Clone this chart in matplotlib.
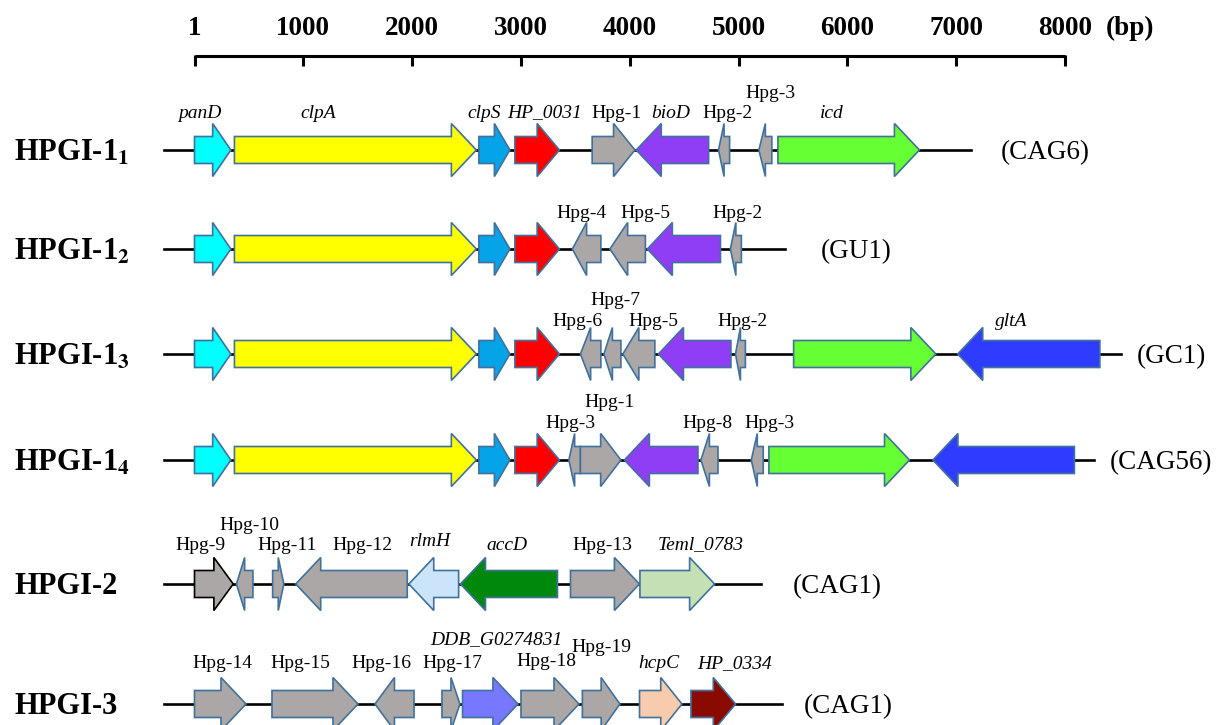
import matplotlib.pyplot as plt
from matplotlib import rcParams
from matplotlib.patches import Polygon

rcParams.update({
    "font.family": "serif",
    "font.serif": ["Liberation Serif", "DejaVu Serif"],
    "mathtext.fontset": "stix",
})

# genes of each island: (name, start bp, end bp, strand)
hpgi_1_1 = [("panD", 1, 335, 1), ("clpA", 368, 2591, 1), ("clpS", 2614, 2899, 1),
            ("HP_0031", 2945, 3354, 1), ("Hpg-1", 3655, 4048, 1), ("bioD", 4060, 4725, -1),
            ("Hpg-2", 4816, 4918, -1), ("Hpg-3", 5187, 5306, -1), ("icd", 5362, 6662, 1)]
hpgi_1_2 = [("panD", 1, 335, 1), ("clpA", 368, 2591, 1), ("clpS", 2614, 2899, 1),
            ("HP_0031", 2945, 3354, 1), ("Hpg-4", 3473, 3735, -1), ("Hpg-5", 3818, 4144, -1),
            ("bioD", 4162, 4834, -1), ("Hpg-2", 4925, 5026, -1)]
hpgi_1_3 = [("panD", 1, 335, 1), ("clpA", 368, 2591, 1), ("clpS", 2614, 2899, 1),
            ("HP_0031", 2945, 3354, 1), ("Hpg-6", 3547, 3735, -1), ("Hpg-7", 3763, 3919, -1),
            ("Hpg-5", 3937, 4231, -1), ("bioD", 4264, 4930, -1), ("Hpg-2", 4972, 5063, -1),
            ("icd", 5506, 6813, 1), ("gltA", 7014, 8320, -1)]
hpgi_1_4 = [("panD", 1, 335, 1), ("clpA", 368, 2591, 1), ("clpS", 2614, 2899, 1),
            ("HP_0031", 2945, 3354, 1), ("Hpg-3", 3441, 3547, -1), ("Hpg-1", 3547, 3919, 1),
            ("bioD", 3951, 4627, -1), ("Hpg-8", 4654, 4811, -1), ("Hpg-3", 5117, 5227, -1),
            ("icd", 5279, 6571, 1), ("gltA", 6786, 8086, -1)]
hpgi_2 = [("Hpg-9", 1, 357, 1), ("Hpg-10", 386, 538, -1), ("Hpg-11", 719, 822, 1),
          ("Hpg-12", 931, 1956, -1), ("rlmH", 1971, 2428, -1), ("accD", 2445, 3336, -1),
          ("Hpg-13", 3456, 4089, 1), ("Teml_0783", 4094, 4780, 1)]
hpgi_3 = [("Hpg-14", 1, 474, 1), ("Hpg-15", 713, 1503, 1), ("Hpg-16", 1659, 2018, -1),
          ("Hpg-17", 2275, 2440, 1), ("DDB_G0274831", 2464, 2973, 1), ("Hpg-18", 3001, 3534, 1),
          ("Hpg-19", 3565, 3910, 1), ("hcpC", 4090, 4480, 1), ("HP_0334", 4563, 4973, 1)]

islands = [hpgi_1_1, hpgi_1_2, hpgi_1_3, hpgi_1_4, hpgi_2, hpgi_3]
island_names = [r"HPGI-1$_{\mathbf{1}}$", r"HPGI-1$_{\mathbf{2}}$", r"HPGI-1$_{\mathbf{3}}$",
                r"HPGI-1$_{\mathbf{4}}$", "HPGI-2", "HPGI-3"]
strains = ["(CAG6)", "(GU1)", "(GC1)", "(CAG56)", "(CAG1)", "(CAG1)"]
contig_end = [7135, 5426, 8513, 8265, 5206, 5398]
scale_ticks = [1, 1000, 2000, 3000, 4000, 5000, 6000, 7000, 8000]

# label placement: (gene, x in bp, offset above the row in px)
gene_labels = [
    [("panD", 48, 37), ("clpA", 1136, 37), ("clpS", 2660, 37), ("HP_0031", 3215, 37),
     ("Hpg-1", 3883, 37), ("bioD", 4378, 37), ("Hpg-2", 4903, 37), ("Hpg-3", 5293, 57),
     ("icd", 5859, 37)],
    [("Hpg-4", 3553, 36), ("Hpg-5", 4141, 36), ("Hpg-2", 4994, 36)],
    [("Hpg-6", 3524, 33), ("Hpg-7", 3870, 54), ("Hpg-5", 4222, 33), ("Hpg-2", 5040, 33),
     ("gltA", 7504, 33)],
    [("Hpg-3", 3451, 37), ("Hpg-1", 3819, 58), ("Hpg-8", 4716, 37), ("Hpg-3", 5280, 37)],
    [("Hpg-9", 56, 39), ("Hpg-10", 502, 58), ("Hpg-11", 856, 39), ("Hpg-12", 1540, 39),
     ("rlmH", 2165, 42), ("accD", 2873, 39), ("Hpg-13", 3745, 39), ("Teml_0783", 4655, 39)],
    [("Hpg-14", 254, 40), ("Hpg-15", 975, 40), ("Hpg-16", 1715, 40), ("Hpg-17", 2374, 40),
     ("DDB_G0274831", 2771, 64), ("Hpg-18", 3231, 43), ("Hpg-19", 3737, 56),
     ("hcpC", 4265, 40), ("HP_0334", 4962, 40)],
]
strain_x = [7412, 5754, 8662, 8410, 5500, 5598]
row_y = [150, 249, 354, 460, 584, 704]

gene_colors = {
    "panD": "#00ffff", "clpA": "#ffff00", "clpS": "#05a3e8", "HP_0031": "#ff0000",
    "bioD": "#8f3ef5", "icd": "#66ff33", "gltA": "#2e3cff", "rlmH": "#cce4fa",
    "accD": "#00880c", "Teml_0783": "#c5e0b4", "DDB_G0274831": "#7878ff",
    "hcpC": "#f8cbad", "HP_0334": "#8b0a00",
}
GRAY = "#aba7a7"
EDGE = "#41719c"

px_per_bp = 0.10883
x0_px = 194.5


def to_bp(px):
    return (px - x0_px) / px_per_bp + 1


def draw_gene(ax, start, end, strand, y, fc, ec):
    length = end - start
    head = min(25 / px_per_bp, 0.5 * length)
    b, h = 13.5, 26.5
    if strand > 0:
        pts = [(start, y - b), (end - head, y - b), (end - head, y - h), (end, y),
               (end - head, y + h), (end - head, y + b), (start, y + b)]
    else:
        pts = [(end, y - b), (start + head, y - b), (start + head, y - h), (start, y),
               (start + head, y + h), (start + head, y + b), (end, y + b)]
    ax.add_patch(Polygon(pts, closed=True, facecolor=fc, edgecolor=ec, linewidth=1.2,
                         joinstyle="miter", zorder=3))


fig = plt.figure(figsize=(12.16, 7.25), dpi=100)
ax = fig.add_axes([0, 0, 1, 1])
ax.set_xlim(to_bp(0), to_bp(1216))
ax.set_ylim(725, 0)
ax.axis("off")

# scale bar
ax.plot([scale_ticks[0], scale_ticks[-1]], [56, 56], color="black", lw=2.2,
        solid_capstyle="butt", zorder=2)
for t in scale_ticks:
    ax.plot([t, t], [55, 66], color="black", lw=2.2, solid_capstyle="butt")
    ax.text(t, 28, str(t), ha="center", va="center", fontsize=19.5, fontweight="bold")
ax.text(to_bp(1130), 28, "(bp)", ha="center", va="center", fontsize=19.5, fontweight="bold")

for i, genes in enumerate(islands):
    y = row_y[i]
    ax.plot([to_bp(164), contig_end[i]], [y, y], color="black", lw=1.9, zorder=1)
    for name, start, end, strand in genes:
        fc = gene_colors.get(name, GRAY)
        ec = "black" if name == "Hpg-9" else EDGE
        draw_gene(ax, start, end, strand, y, fc, ec)
    for name, x, dy in gene_labels[i]:
        style = "normal" if name.startswith("Hpg") else "italic"
        ax.text(x, y - dy, name, ha="center", va="center", fontsize=14, style=style)
    ax.text(to_bp(14), y + 10.5, island_names[i], ha="left", va="baseline",
            fontsize=22, fontweight="bold")
    ax.text(strain_x[i], y + 3, strains[i], ha="left", va="center", fontsize=19.5)

fig.savefig("out.png", dpi=100)
